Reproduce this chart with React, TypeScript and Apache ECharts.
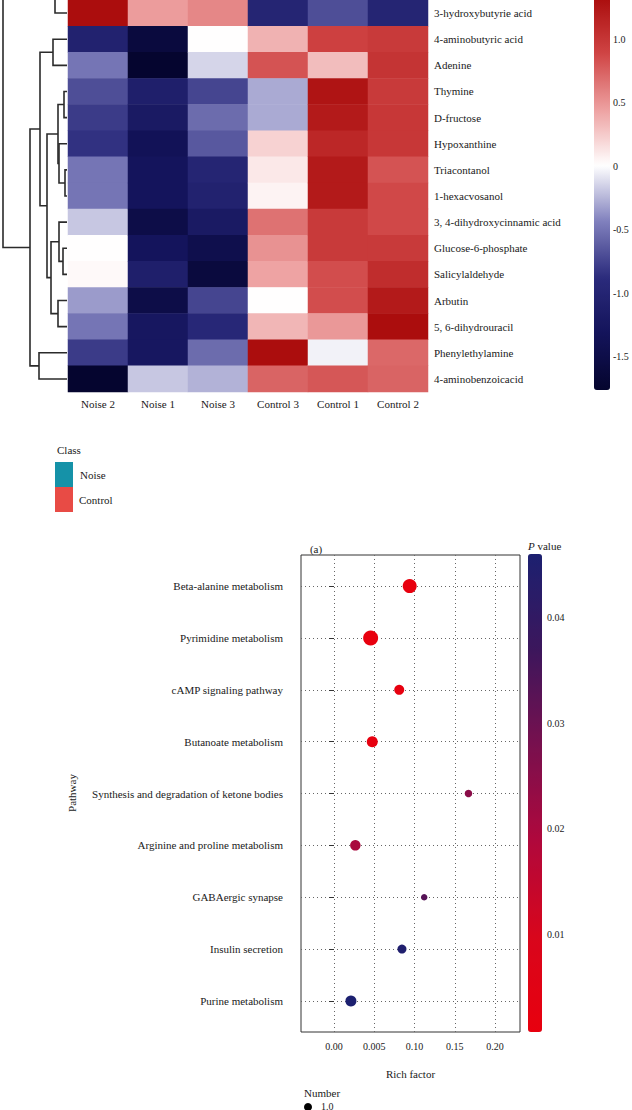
import React, { useEffect, useRef } from 'react';
import * as echarts from 'echarts';

// ---------- Heatmap data ----------
const samples = ['Noise 2', 'Noise 1', 'Noise 3', 'Control 3', 'Control 1', 'Control 2'];
const metabolites = [
  '3-hydroxybutyrie acid', '4-aminobutyric acid', 'Adenine', 'Thymine', 'D-fructose',
  'Hypoxanthine', 'Triacontanol', '1-hexacvosanol', '3, 4-dihydroxycinnamic acid',
  'Glucose-6-phosphate', 'Salicylaldehyde', 'Arbutin', '5, 6-dihydrouracil',
  'Phenylethylamine', '4-aminobenzoicacid',
];
const noise2 = [1.3, -1.05, -0.5, -0.7, -0.8, -0.85, -0.5, -0.5, -0.2, 0, 0.02, -0.35, -0.5, -0.8, -1.75];
const noise1 = [0.45, -1.6, -1.75, -1.1, -1.2, -1.35, -1.3, -1.3, -1.5, -1.3, -1.1, -1.5, -1.25, -1.25, -0.2];
const noise3 = [0.55, 0, -0.15, -0.75, -0.55, -0.65, -1.0, -1.05, -1.2, -1.45, -1.6, -0.75, -0.95, -0.55, -0.27];
const control3 = [-1.0, 0.35, 0.8, -0.3, -0.3, 0.2, 0.1, 0.05, 0.65, 0.5, 0.42, 0, 0.33, 1.3, 0.72];
const control1 = [-0.7, 0.9, 0.3, 1.25, 1.2, 1.1, 1.2, 1.2, 0.95, 0.95, 0.83, 0.83, 0.47, -0.05, 0.78];
const control2 = [-1.0, 0.95, 1.0, 0.95, 0.97, 0.97, 0.8, 0.85, 0.85, 0.95, 1.05, 1.2, 1.3, 0.7, 0.72];
const heatMin = -1.76;
const heatMax = 1.31;
const heatTicks = [-1.5, -1, -0.5, 0, 0.5, 1];
const heatTickLabels = ['-1.5', '-1.0', '-0.5', '0', '0.5', '1.0'];

// Row dendrogram: [node, childA, childB, height]; r<i> = heatmap row i, up* = branches above the visible area
const dendroMerges: [string, string, string, number][] = [
  ['n1', 'r6', 'r7', 2],
  ['n2', 'r3', 'r4', 3],
  ['n3', 'r5', 'n1', 8],
  ['n4', 'n2', 'n3', 9],
  ['n5', 'r9', 'r10', 4],
  ['n6', 'r8', 'n5', 8],
  ['n7', 'r11', 'r12', 9],
  ['n8', 'n6', 'n7', 16],
  ['n9', 'n4', 'n8', 20],
  ['n10', 'r1', 'r2', 14],
  ['n11', 'n10', 'n9', 27],
  ['n12', 'r13', 'r14', 28],
  ['n13', 'n11', 'n12', 37],
  ['n14', 'up1', 'r0', 12],
  ['root', 'up2', 'n13', 64],
];
const dendroOffscreen: Record<string, number> = { up1: -1, up2: -4 };

// ---------- Bubble (enrichment) data ----------
const pathways = [
  'Beta-alanine metabolism', 'Pyrimidine metabolism', 'cAMP signaling pathway',
  'Butanoate metabolism', 'Synthesis and degradation of ketone bodies',
  'Arginine and proline metabolism', 'GABAergic synapse', 'Insulin secretion', 'Purine metabolism',
];
const richFactor = [0.094, 0.0455, 0.081, 0.0475, 0.167, 0.0265, 0.112, 0.0844, 0.021];
const pValue = [0.001, 0.001, 0.0015, 0.0015, 0.025, 0.02, 0.033, 0.045, 0.046];
const pathwayNumber = [14, 15, 10, 11, 7.5, 10.5, 6.5, 9, 11];
const richTicks = [0, 0.05, 0.1, 0.15, 0.2];
const richTickLabels = ['0.00', '0.005', '0.10', '0.15', '0.20'];
const richMin = -0.041;
const richMax = 0.231;
const pTicks = [0.01, 0.02, 0.03, 0.04];
const pMin = 0.00075;
const pMax = 0.046;

const FONT = 'Liberation Serif';
const TXT = '#1a1a1a';

export default function App() {
  const ref = useRef<HTMLDivElement>(null);
  useEffect(() => {
    if (!ref.current) return;
    const chart = echarts.init(ref.current, undefined, { renderer: 'svg' });

    const columns = [noise2, noise1, noise3, control3, control1, control2];
    const heatData: number[][] = [];
    columns.forEach((col, c) => col.forEach((v, r) => heatData.push([c, r, v])));

    const pos: Record<string, { y: number; h: number }> = {};
    metabolites.forEach((_, i) => (pos['r' + i] = { y: i, h: 0 }));
    Object.entries(dendroOffscreen).forEach(([k, v]) => (pos[k] = { y: v, h: 0 }));
    const dendroData = dendroMerges.map(([name, a, b, h]) => {
      const A = pos[a];
      const B = pos[b];
      pos[name] = { y: (A.y + B.y) / 2, h };
      return [A.h, A.y, B.h, B.y, h];
    });

    const bubbleData = pathways.map((_, i) => [richFactor[i], i, pValue[i], pathwayNumber[i]]);
    const pathIdx = pathways.map((_, i) => i);

    const hidden = { show: false };
    const option: any = {
      animation: false,
      textStyle: { fontFamily: FONT },
      grid: [
        { left: 68, top: -3, width: 360, height: 395 },
        { left: 2, top: -3, width: 65, height: 395 },
        { left: 594, top: -3, width: 16, height: 393 },
        { left: 301, top: 555, width: 219, height: 477, show: true, borderColor: '#333', borderWidth: 1, backgroundColor: 'transparent' },
        { left: 528, top: 554, width: 14, height: 478 },
      ],
      xAxis: [
        {
          gridIndex: 0, type: 'category', data: samples, position: 'bottom',
          axisLine: hidden, axisTick: hidden, splitLine: hidden,
          axisLabel: { margin: 6, fontSize: 11, color: TXT, fontFamily: FONT },
        },
        { gridIndex: 1, type: 'value', min: 0, max: 65, inverse: true, show: false },
        { gridIndex: 2, type: 'value', show: false },
        {
          gridIndex: 3, type: 'value', min: richMin, max: richMax,
          axisLine: hidden,
          axisTick: { show: false, customValues: richTicks },
          axisLabel: {
            customValues: richTicks, margin: 9, fontSize: 10, color: TXT, fontFamily: FONT,
            formatter: (v: number) => {
              const i = richTicks.findIndex((t) => Math.abs(t - v) < 1e-9);
              return i >= 0 ? richTickLabels[i] : '';
            },
          },
          splitLine: { show: true, lineStyle: { color: '#666', type: [1, 3], width: 1 } },
          name: 'Rich factor', nameLocation: 'middle', nameGap: 36,
          nameTextStyle: { fontSize: 11, color: TXT, fontFamily: FONT },
        },
        { gridIndex: 4, type: 'value', show: false },
      ],
      yAxis: [
        {
          gridIndex: 0, type: 'category', data: metabolites, inverse: true, position: 'right',
          axisLine: hidden, axisTick: hidden, splitLine: hidden,
          axisLabel: { margin: 6, fontSize: 11, color: TXT, align: 'left', fontFamily: FONT },
        },
        { gridIndex: 1, type: 'value', min: -0.5, max: 14.5, inverse: true, show: false },
        {
          gridIndex: 2, type: 'value', min: heatMin, max: heatMax, position: 'right',
          axisLine: hidden, splitLine: hidden,
          axisTick: { show: false, customValues: heatTicks },
          axisLabel: {
            customValues: heatTicks, margin: 3, fontSize: 10, color: TXT, fontFamily: FONT,
            formatter: (v: number) => {
              const i = heatTicks.findIndex((t) => Math.abs(t - v) < 1e-9);
              return i >= 0 ? heatTickLabels[i] : '';
            },
          },
        },
        {
          gridIndex: 3, type: 'value', min: -0.6, max: 8.6, inverse: true,
          axisLine: hidden,
          axisTick: { show: true, length: 5, customValues: pathIdx, lineStyle: { color: '#333', width: 1 } },
          axisLabel: {
            customValues: pathIdx, margin: 18, fontSize: 11, color: TXT, fontFamily: FONT,
            formatter: (v: number) => pathways[Math.round(v)] ?? '',
          },
          splitLine: { show: true, lineStyle: { color: '#666', type: [1, 3], width: 1 } },
        },
        {
          gridIndex: 4, type: 'value', min: pMin, max: pMax, position: 'right',
          axisLine: hidden, splitLine: hidden,
          axisTick: { show: true, inside: true, length: 3, customValues: pTicks, lineStyle: { color: 'rgba(255,255,255,0.6)', width: 1 } },
          axisLabel: {
            customValues: pTicks, margin: 5, fontSize: 10, color: TXT, fontFamily: FONT,
            formatter: (v: number) => v.toFixed(2),
          },
        },
        {
          gridIndex: 4, type: 'value', min: pMin, max: pMax, position: 'left',
          axisLine: hidden, splitLine: hidden, axisLabel: hidden,
          axisTick: { show: true, inside: true, length: 3, customValues: pTicks, lineStyle: { color: 'rgba(255,255,255,0.6)', width: 1 } },
        },
      ],
      visualMap: [
        {
          type: 'continuous', seriesIndex: 0, dimension: 2, min: heatMin, max: heatMax,
          inRange: { color: ['#05052e', '#13135a', '#2b2b7c', '#8080bd', '#ffffff', '#eda0a0', '#cf4444', '#aa0c0c'] },
          left: 594, top: -3, itemWidth: 16, itemHeight: 393, padding: 0,
          calculable: false, hoverLink: false, orient: 'vertical',
        },
        {
          type: 'continuous', seriesIndex: 2, dimension: 2, min: pMin, max: pMax,
          inRange: { color: ['#e8000e', '#d8061c', '#b0083c', '#78104e', '#3c165c', '#1c2070'] },
          left: 528, top: 554, itemWidth: 14, itemHeight: 478, padding: 0,
          calculable: false, hoverLink: false, orient: 'vertical',
        },
        {
          type: 'continuous', seriesIndex: 2, dimension: 3, min: 6.5, max: 15, show: false,
          inRange: { symbolSize: [6.5, 15] },
        },
      ],
      series: [
        {
          type: 'heatmap', xAxisIndex: 0, yAxisIndex: 0, data: heatData,
          itemStyle: { borderWidth: 0 }, emphasis: { disabled: true },
        },
        {
          type: 'custom', xAxisIndex: 1, yAxisIndex: 1, data: dendroData, silent: true,
          renderItem: (_p: any, api: any) => {
            const p1 = api.coord([api.value(0), api.value(1)]);
            const p2 = api.coord([api.value(4), api.value(1)]);
            const p3 = api.coord([api.value(4), api.value(3)]);
            const p4 = api.coord([api.value(2), api.value(3)]);
            return {
              type: 'polyline',
              shape: { points: [p1, p2, p3, p4] },
              style: { stroke: '#2b2b2b', lineWidth: 1.6, fill: 'none' },
            };
          },
        },
        {
          type: 'scatter', xAxisIndex: 3, yAxisIndex: 3, data: bubbleData, symbol: 'circle',
          encode: { x: 0, y: 1 }, itemStyle: { opacity: 1 }, emphasis: { disabled: true },
        },
      ],
      graphic: [
        { type: 'text', x: 57, y: 450, style: { text: 'Class', fontSize: 11, fontFamily: FONT, fill: TXT, verticalAlign: 'middle' } },
        { type: 'rect', shape: { x: 55, y: 462, width: 18, height: 25 }, style: { fill: '#1592a8' } },
        { type: 'rect', shape: { x: 55, y: 487, width: 18, height: 25 }, style: { fill: '#e84b45' } },
        { type: 'text', x: 80, y: 475, style: { text: 'Noise', fontSize: 11, fontFamily: FONT, fill: TXT, verticalAlign: 'middle' } },
        { type: 'text', x: 79, y: 500, style: { text: 'Control', fontSize: 11, fontFamily: FONT, fill: TXT, verticalAlign: 'middle' } },
        { type: 'text', x: 316, y: 549, style: { text: '(a)', fontSize: 11, fontFamily: FONT, fill: TXT, align: 'center', verticalAlign: 'middle' } },
        { type: 'text', x: 72, y: 793, rotation: Math.PI / 2, style: { text: 'Pathway', fontSize: 11, fontFamily: FONT, fill: TXT, align: 'center', verticalAlign: 'middle' } },
        {
          type: 'text', x: 528, y: 546,
          style: {
            text: '{i|P} value', fontSize: 11, fontFamily: FONT, fill: TXT, verticalAlign: 'middle',
            rich: { i: { fontStyle: 'italic', fontSize: 11, fontFamily: FONT, fill: TXT } },
          },
        },
        { type: 'text', x: 304, y: 1093, style: { text: 'Number', fontSize: 11, fontFamily: FONT, fill: TXT, verticalAlign: 'middle' } },
        { type: 'circle', shape: { cx: 308, cy: 1107, r: 4 }, style: { fill: '#000' } },
        { type: 'text', x: 321, y: 1106, style: { text: '1.0', fontSize: 10, fontFamily: FONT, fill: TXT, verticalAlign: 'middle' } },
      ],
    };
    chart.setOption(option);
    return () => chart.dispose();
  }, []);
  return <div ref={ref} style={{ position: 'absolute', left: 0, top: 0, width: 632, height: 1110, background: '#fff' }} />;
}
